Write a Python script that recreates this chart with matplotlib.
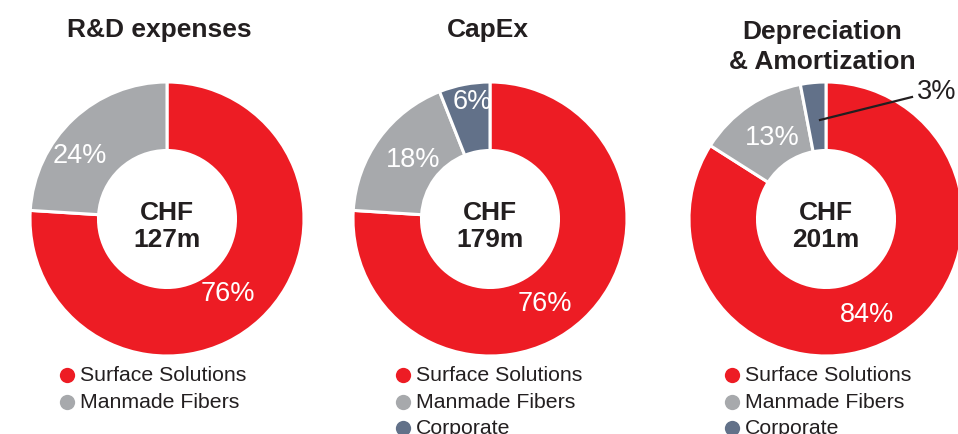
import matplotlib.pyplot as plt

plt.rcParams['font.family'] = ['Liberation Sans', 'DejaVu Sans']

# data
segments = ["Surface Solutions", "Manmade Fibers", "Corporate"]
colors = ["#ED1C24", "#A7A9AC", "#627189"]
titles = ["R&D expenses", "CapEx", "Depreciation\n& Amortization"]
totals = ["CHF\n127m", "CHF\n179m", "CHF\n201m"]
rd_shares = [76, 24]
capex_shares = [76, 18, 6]
da_shares = [84, 13, 3]

W, H = 958, 435
fig = plt.figure(figsize=(W / 100, H / 100), dpi=100)

# overlay axes in pixel coordinates for texts / legends
ov = fig.add_axes([0, 0, 1, 1])
ov.set_xlim(0, W)
ov.set_ylim(H, 0)
ov.axis('off')

R = 137
charts = [
    # shares, center x, label positions (data units), title x, legend x
    (rd_shares, 167, [(0.445, -0.54), (-0.64, 0.47)], 159, 67),
    (capex_shares, 490, [(0.40, -0.61), (-0.56, 0.44), (-0.13, 0.86)], 488, 403),
    (da_shares, 826, [(0.30, -0.69), (-0.39, 0.60), None], 822, 732),
]
cy = 220

for i, (shares, cx, lpos, tx, lx) in enumerate(charts):
    ax = fig.add_axes([(cx - R) / W, (H - cy - R) / H, 2 * R / W, 2 * R / H], zorder=0)
    ax.pie(shares, colors=colors[:len(shares)], startangle=90, counterclock=False,
           radius=1, wedgeprops=dict(width=0.5, edgecolor='white', linewidth=2.2))
    ax.set_xlim(-1, 1)
    ax.set_ylim(-1, 1)
    ax.set_aspect('equal')
    ax.axis('off')
    for s, p in zip(shares, lpos):
        if p is None:
            continue
        ax.text(p[0], p[1], f"{s}%", color='white', fontsize=19.5,
                ha='center', va='center')
    ax.text(0, -0.045, totals[i], ha='center', va='center', fontsize=19,
            fontweight='bold', color='#231F20', linespacing=1.17)

    # title
    ov.text(tx, 30 if '\n' not in titles[i] else 47, titles[i], ha='center', va='center',
            fontsize=19, fontweight='bold', color='#231F20', linespacing=1.3)

    # legend
    for j in range(len(shares)):
        y = 376 + j * 26.5
        ov.plot(lx, y, 'o', ms=11, color=colors[j], mec='none', clip_on=False)
        ov.text(lx + 13, y, segments[j], ha='left', va='center', fontsize=15.3,
                color='#231F20')

ov.set_zorder(5)

# callout for small slice
ov.plot([820, 912], [121, 98], color='#231F20', lw=1.6)
ov.text(917, 92, f"{da_shares[2]}%", ha='left', va='center', fontsize=19.5, color='#231F20')

fig.savefig('out.png', dpi=100)
